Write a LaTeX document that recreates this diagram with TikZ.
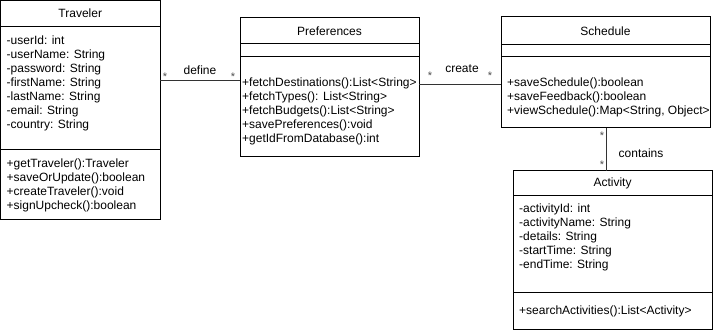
\documentclass[tikz,border=0pt]{standalone}
\usepackage{fontspec}
\setmainfont{Liberation Sans}
\usetikzlibrary{positioning}

\begin{document}
\begin{tikzpicture}[
x=1pt, y=-1pt,
classbox/.style={draw, line width=1pt, inner sep=0pt, outer sep=0pt, font=\fontsize{12}{14}\selectfont},
members/.style={anchor=north west, align=left, inner sep=0pt, font=\fontsize{12}{14}\selectfont},
assoc/.style={line width=1pt, draw=black!80},
assoclabel/.style={inner sep=0pt, font=\fontsize{12}{14}\selectfont},
mult/.style={inner sep=0pt, font=\fontsize{11}{11}\selectfont, text=black!70},
node distance=0pt
]
\useasboundingbox (0,0) rectangle (713,331);

% Traveler
\node[classbox, minimum width=159.5, minimum height=26, anchor=north west] (trav) at (0.5,0.5) {Traveler};
\node[classbox, minimum width=159.5, minimum height=123, below=of trav] (travA) {};
\node[classbox, minimum width=159.5, minimum height=70, below=of travA] (travM) {};
\node[members] (travAtt) at ([xshift=6pt, yshift=-9.5pt]travA.north west) {-userId: int\\-userName: String\\-password: String\\-firstName: String\\-lastName: String\\-email: String\\-country: String};
\node[members] (travOps) at ([xshift=6pt, yshift=-9.5pt]travM.north west) {+getTraveler():Traveler\\+saveOrUpdate():boolean\\+createTraveler():void\\+signUpcheck():boolean};

% Preferences
\node[classbox, minimum width=179, minimum height=26, anchor=north west] (pref) at (240,18) {Preferences};
\node[classbox, minimum width=179, minimum height=13, below=of pref] (prefA) {};
\node[classbox, minimum width=179, minimum height=100, below=of prefA] (prefM) {};
\node[members] (prefOps) at ([xshift=2pt, yshift=-20.5pt]prefM.north west) {+fetchDestinations():List<String>\\+fetchTypes(): List<String>\\+fetchBudgets():List<String>\\+savePreferences():void\\+getIdFromDatabase():int};

% Schedule
\node[classbox, minimum width=209, minimum height=28, anchor=north west] (sch) at (501,17) {Schedule};
\node[classbox, minimum width=209, minimum height=12, below=of sch] (schA) {};
\node[classbox, minimum width=209, minimum height=71, below=of schA] (schM) {};
\node[members] (schOps) at ([xshift=6pt, yshift=-20.5pt]schM.north west) {+saveSchedule():boolean\\+saveFeedback():boolean\\+viewSchedule():Map<String, Object>};

% Activity
\node[classbox, minimum width=199, minimum height=25, anchor=north west] (act) at (513,171) {Activity};
\node[classbox, minimum width=199, minimum height=97, below=of act] (actA) {};
\node[classbox, minimum width=199, minimum height=37, below=of actA] (actM) {};
\node[members] (actAtt) at ([xshift=6pt, yshift=-7.5pt]actA.north west) {-activityId: int\\-activityName: String\\-details: String\\-startTime: String\\-endTime: String};
\node[members] (actOps) at ([xshift=6pt, yshift=-12.5pt]actM.north west) {+searchActivities():List<Activity>};

% associations
\coordinate (defineY) at ([yshift=7pt]travA.east);
\draw[assoc] (defineY) -- (defineY -| prefM.west);
\node[assoclabel] (defineLbl) at (200,70) {define};
\node[mult] (defTravM) at (165,77) {*};
\node[mult] (defPrefM) at (233,77) {*};

\coordinate (createY) at ([yshift=8pt]schM.west);
\draw[assoc] (createY -| prefM.east) -- (createY);
\node[assoclabel] (createLbl) at (462,69) {create};
\node[mult] (crePrefM) at (430,76) {*};
\node[mult] (creSchM) at (490,76) {*};

\coordinate (containsX) at ([xshift=0.5pt]schM.south);
\draw[assoc] (containsX) -- (containsX |- act.north);
\node[assoclabel] (containsLbl) at (641,153) {contains};
\node[mult] (conSchM) at (602,136) {*};
\node[mult] (conActM) at (602,165) {*};
\end{tikzpicture}
\end{document}
